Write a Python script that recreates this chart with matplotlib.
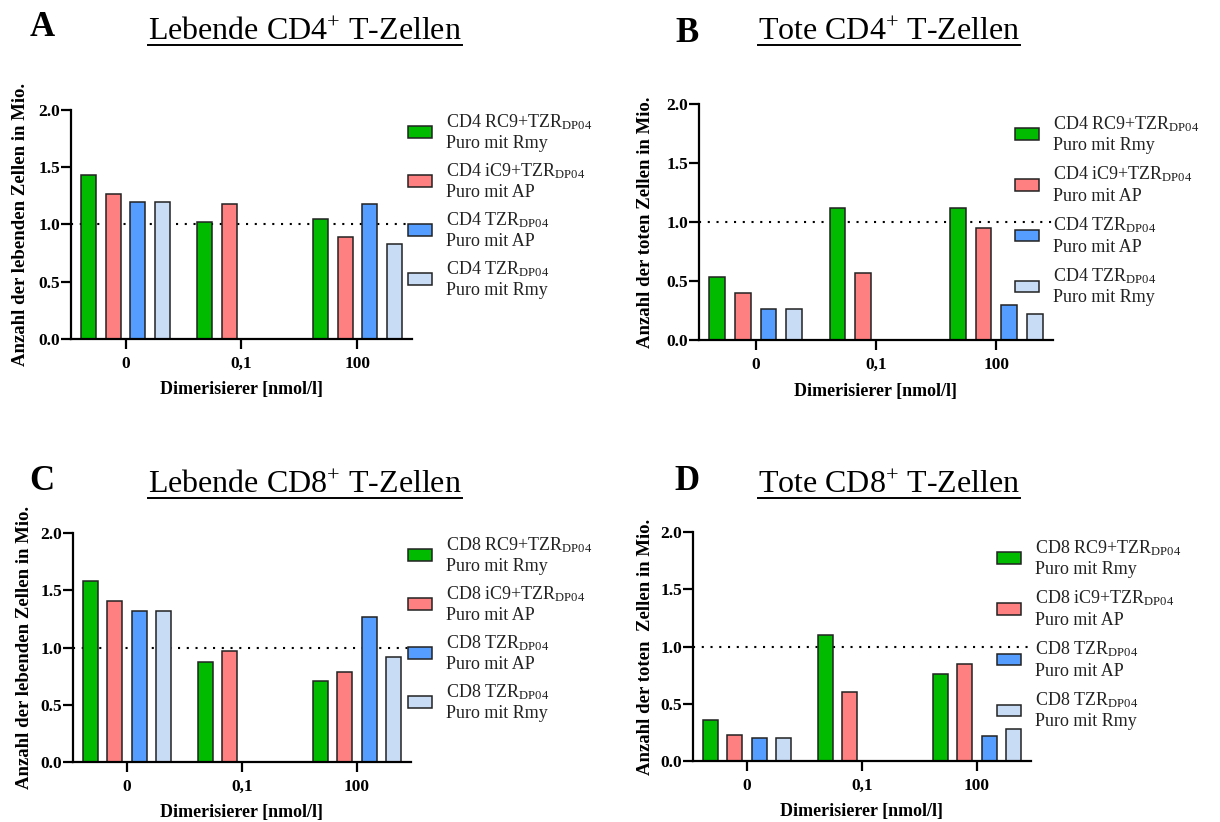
import numpy as np
import matplotlib
matplotlib.use("Agg")
import matplotlib.pyplot as plt
from matplotlib.patches import Patch
from matplotlib.lines import Line2D

plt.rcParams['font.family'] = ['Liberation Serif', 'DejaVu Serif']
plt.rcParams['mathtext.fontset'] = 'custom'
plt.rcParams['mathtext.rm'] = 'Liberation Serif'
plt.rcParams['mathtext.it'] = 'Liberation Serif:italic'
plt.rcParams['mathtext.bf'] = 'Liberation Serif:bold'

# ---------------- data ----------------
categories = ['0', '0,1', '100']
nan = np.nan

a_rc9 = [1.43, 1.02, 1.05]
a_ic9 = [1.27, 1.18, 0.89]
a_tzr_ap = [1.20, nan, 1.18]
a_tzr_rmy = [1.20, nan, 0.83]

b_rc9 = [0.53, 1.12, 1.12]
b_ic9 = [0.40, 0.57, 0.95]
b_tzr_ap = [0.26, nan, 0.30]
b_tzr_rmy = [0.26, nan, 0.22]

c_rc9 = [1.58, 0.87, 0.71]
c_ic9 = [1.41, 0.97, 0.79]
c_tzr_ap = [1.32, nan, 1.27]
c_tzr_rmy = [1.32, nan, 0.92]

d_rc9 = [0.36, 1.10, 0.76]
d_ic9 = [0.23, 0.60, 0.85]
d_tzr_ap = [0.20, nan, 0.22]
d_tzr_rmy = [0.20, nan, 0.28]

legend_cd4 = ['CD4 RC9+TZR$_{\\mathrm{DP04}}$\nPuro mit Rmy',
              'CD4 iC9+TZR$_{\\mathrm{DP04}}$\nPuro mit AP',
              'CD4 TZR$_{\\mathrm{DP04}}$\nPuro mit AP',
              'CD4 TZR$_{\\mathrm{DP04}}$\nPuro mit Rmy']
legend_cd8 = [s.replace('CD4', 'CD8') for s in legend_cd4]

titles = ['Lebende CD4$^{+}$ T-Zellen', 'Tote CD4$^{+}$ T-Zellen',
          'Lebende CD8$^{+}$ T-Zellen', 'Tote CD8$^{+}$ T-Zellen']
letters = ['A', 'B', 'C', 'D']
ylabels = ['Anzahl der lebenden Zellen in Mio.', 'Anzahl der toten Zellen in Mio.',
           'Anzahl der lebenden Zellen in Mio.', 'Anzahl der toten  Zellen in Mio.']
xlabel = 'Dimerisierer [nmol/l]'
yticks = [0.0, 0.5, 1.0, 1.5, 2.0]

colors = ['#00BB00', '#FF8080', '#559EFF', '#C8DCF6']

panels = [
    dict(series=[a_rc9, a_ic9, a_tzr_ap, a_tzr_rmy], legend=legend_cd4),
    dict(series=[b_rc9, b_ic9, b_tzr_ap, b_tzr_rmy], legend=legend_cd4),
    dict(series=[c_rc9, c_ic9, c_tzr_ap, c_tzr_rmy], legend=legend_cd8),
    dict(series=[d_rc9, d_ic9, d_tzr_ap, d_tzr_rmy], legend=legend_cd8),
]

W, H = 1220, 822
fig = plt.figure(figsize=(W / 100, H / 100), dpi=100)

# pixel boxes: left, right, top, bottom
boxes = [(71, 412, 110, 339), (699, 1053, 104, 340), (73, 411, 533, 762), (693, 1031, 532, 761)]
ylab_x = [21, 646, 24, 646]
legend_anchor = [(408, 112), (1015, 114), (408, 535), (997, 538)]
legend_lspace = [0.5, 0.6, 0.5, 0.6]
title_pos = [(305, 40), (889, 40), (305, 493), (889, 493)]
letter_pos = [(42, 36), (687, 42), (42, 490), (687, 490)]

def fx(px):
    return px / W

def fy(py):
    return 1 - py / H

offsets = np.array([-1.5, -0.5, 0.5, 1.5]) * 0.213
barw = 0.13
x = np.arange(len(categories))

for i, p in enumerate(panels):
    l, r, t, b = boxes[i]
    ax = fig.add_axes([fx(l), fy(b), (r - l) / W, (b - t) / H])
    handles = []
    for k, s in enumerate(p['series']):
        ax.bar(x + offsets[k], s, width=barw, color=colors[k], edgecolor='#222222',
               linewidth=1.1, zorder=2)
        handles.append(Patch(facecolor=colors[k], edgecolor='#222222', linewidth=1.1))
    ax.axhline(1.0, color='black', linestyle=(0, (1, 3.2)), linewidth=1.5, zorder=1)
    ax.set_xlim(-0.47, 2.47)
    ax.set_ylim(0, 2.0)
    ax.set_yticks(yticks)
    ax.set_yticklabels([f'{v:.1f}' for v in yticks])
    ax.set_xticks(x)
    ax.set_xticklabels(categories)
    for sp in ['top', 'right']:
        ax.spines[sp].set_visible(False)
    for sp in ['left', 'bottom']:
        ax.spines[sp].set_linewidth(1.6)
    ax.tick_params(axis='both', width=1.6, length=7, labelsize=12.5)
    ax.tick_params(axis='x', pad=5)
    ax.tick_params(axis='y', pad=1)
    for lab in ax.get_xticklabels() + ax.get_yticklabels():
        lab.set_fontweight('bold')
    ax.set_xlabel(xlabel, fontsize=13, fontweight='bold')
    ax.xaxis.set_label_coords(0.5, -(389 - 339) / 229, transform=ax.transAxes)
    ax.xaxis.label.set_va('center')
    ax.set_ylabel(ylabels[i], fontsize=13.5, fontweight='bold', va='center')
    ax.yaxis.set_label_coords((ylab_x[i] - l) / (r - l), 0.5)
    ax.patch.set_alpha(0)

    lx, ly = legend_anchor[i]
    leg = ax.legend(handles, p['legend'], loc='upper left',
                    bbox_to_anchor=(fx(lx), fy(ly)), bbox_transform=fig.transFigure,
                    frameon=False, fontsize=13, handlelength=1.35, handleheight=0.6,
                    handletextpad=0.75, labelspacing=legend_lspace[i], borderpad=0,
                    borderaxespad=0)
    for tx in leg.get_texts():
        tx.set_linespacing(1.25)
        tx.set_color('#222222')

    tx_, ty_ = title_pos[i]
    fig.text(fx(tx_), fy(ty_), titles[i], fontsize=23, ha='center', va='baseline')
    lx_, ly_ = letter_pos[i]
    fig.text(fx(lx_), fy(ly_), letters[i], fontsize=25, fontweight='bold', ha='center', va='baseline')

# underline titles
fig.canvas.draw()
renderer = fig.canvas.get_renderer()
for t in fig.texts[:]:
    if t.get_text() in titles:
        bb = t.get_window_extent(renderer)
        x0, x1 = bb.x0 / W, bb.x1 / W
        ybase = t.get_position()[1] - 5 / H
        fig.add_artist(Line2D([x0, x1], [ybase, ybase], color='black', linewidth=1.4,
                              transform=fig.transFigure))

fig.savefig('out.png', dpi=100)
